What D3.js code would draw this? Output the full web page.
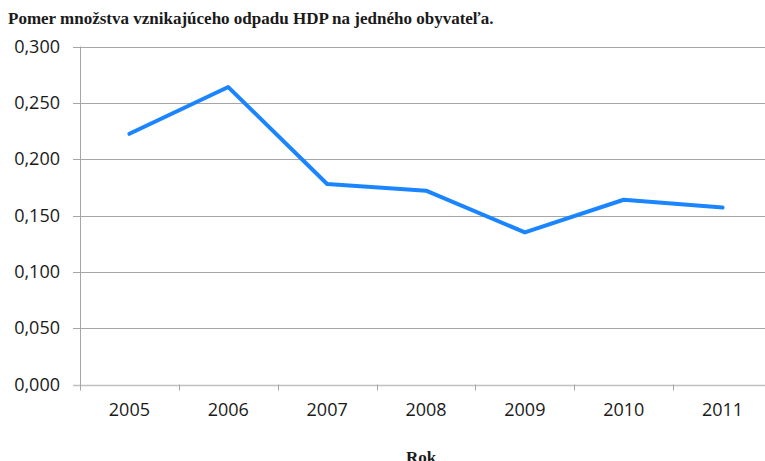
<!DOCTYPE html>
<html>
<head>
<meta charset="utf-8">
<script src="https://cdn.jsdelivr.net/npm/d3@7"></script>
<style>
  body { margin: 0; background: #fff; }
  svg { display: block; }
</style>
</head>
<body>
<div id="chart"></div>
<script>
var years = ["2005", "2006", "2007", "2008", "2009", "2010", "2011"];
var values = [0.2225, 0.264, 0.178, 0.172, 0.135, 0.164, 0.157];
var yTicks = [0, 0.05, 0.1, 0.15, 0.2, 0.25, 0.3];

var width = 765, height = 461;
var plotLeft = 80, plotRight = 772, plotTop = 46.5, plotBottom = 384.5;

var svg = d3.select("#chart")
  .append("svg")
    .attr("width", width)
    .attr("height", height);

var x = d3.scaleBand()
  .domain(years)
  .range([plotLeft, plotRight]);

var y = d3.scaleLinear()
  .domain([0, 0.3])
  .range([plotBottom, plotTop]);

var fmt = function(d) { return d3.format(".3f")(d).replace(".", ","); };

// gridlines
svg.append("g")
  .selectAll("line")
  .data(yTicks)
  .enter()
  .append("line")
    .attr("x1", plotLeft - 7)
    .attr("x2", plotRight)
    .attr("y1", function(d) { return Math.round(y(d)) + 0.5; })
    .attr("y2", function(d) { return Math.round(y(d)) + 0.5; })
    .attr("stroke", function(d) { return d === 0 ? "#c0c0c0" : "#a6a6a6"; })
    .attr("stroke-width", function(d) { return d === 0 ? 1.5 : 1; });

// y axis line
svg.append("line")
  .attr("x1", plotLeft + 0.5).attr("x2", plotLeft + 0.5)
  .attr("y1", plotTop).attr("y2", plotBottom + 6)
  .attr("stroke", "#a6a6a6");

// y labels
svg.append("g")
  .selectAll("text")
  .data(yTicks)
  .enter()
  .append("text")
    .attr("x", 60)
    .attr("y", function(d) { return y(d) + 6; })
    .attr("text-anchor", "end")
    .attr("font-family", "Open Sans")
    .attr("font-size", 18)
    .attr("fill", "#1a1a1a")
    .text(fmt);

// x ticks between categories
var xTickPos = years.slice(1).map(function(d) { return x(d); });
svg.append("g")
  .selectAll("line")
  .data(xTickPos)
  .enter()
  .append("line")
    .attr("x1", function(d) { return Math.round(d) + 0.5; })
    .attr("x2", function(d) { return Math.round(d) + 0.5; })
    .attr("y1", plotBottom)
    .attr("y2", plotBottom + 6)
    .attr("stroke", "#a6a6a6");

// x labels
svg.append("g")
  .selectAll("text")
  .data(years)
  .enter()
  .append("text")
    .attr("x", function(d) { return x(d) + x.bandwidth() / 2; })
    .attr("y", 416)
    .attr("text-anchor", "middle")
    .attr("font-family", "Open Sans")
    .attr("font-size", 18)
    .attr("fill", "#1a1a1a")
    .text(function(d) { return d; });

// line
var line = d3.line()
  .x(function(d, i) { return x(years[i]) + x.bandwidth() / 2; })
  .y(function(d) { return y(d); });

svg.append("path")
  .datum(values)
  .attr("d", line)
  .attr("fill", "none")
  .attr("stroke", "#1a85ff")
  .attr("stroke-width", 4)
  .attr("stroke-linejoin", "round")
  .attr("stroke-linecap", "round");

// title
svg.append("text")
  .attr("x", 8)
  .attr("y", 24)
  .attr("font-family", "Liberation Serif")
  .attr("font-weight", "bold")
  .attr("font-size", 17)
  .attr("fill", "#1a1a1a")
  .text("Pomer množstva vznikajúceho odpadu HDP na jedného obyvateľa.");

// axis title
svg.append("text")
  .attr("x", 421)
  .attr("y", 463)
  .attr("text-anchor", "middle")
  .attr("font-family", "Liberation Serif")
  .attr("font-weight", "bold")
  .attr("font-size", 17)
  .attr("fill", "#1a1a1a")
  .text("Rok");
</script>
</body>
</html>
